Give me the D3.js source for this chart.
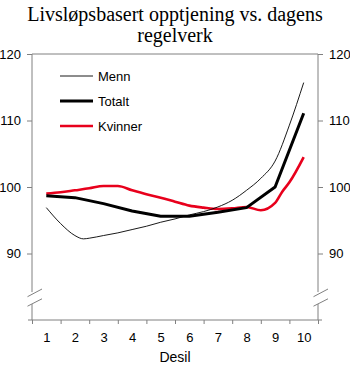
<!DOCTYPE html>
<html><head><meta charset="utf-8">
<script src="https://cdn.jsdelivr.net/npm/d3@7"></script>
<style>body{margin:0;background:#fff}svg{display:block}</style>
</head><body>
<script>
const title = ["Livsløpsbasert opptjening vs. dagens", "regelverk"];
const deciles = [1,2,3,4,5,6,7,8,9,10];
const yTicks = [90,100,110,120];
const xLabel = "Desil";
const seriesNames = ["Menn","Totalt","Kvinner"];
// Menn (smooth, read at half steps)
const mennX = [1,1.5,2,2.3,2.5,3,3.5,4,4.5,5,5.5,6,6.5,7,7.5,8,8.5,9,9.5,10];
const mennY = [96.9,94.5,92.7,92.2,92.3,92.7,93.1,93.6,94.1,94.7,95.2,95.8,96.3,97.0,98.0,99.5,101.3,103.9,109.3,115.7];
// Totalt (one value per decile)
const totaltY = [98.7,98.4,97.5,96.4,95.6,95.6,96.2,96.9,100.0,111.1];
// Kvinner (smooth, read at half steps)
const kvinnerX = [1,1.5,2,2.5,3,3.5,4,4.5,5,5.5,6,6.5,7,7.5,8,8.5,9,9.25,9.5,10];
const kvinnerY = [99.0,99.2,99.5,99.8,100.15,100.15,99.5,98.9,98.4,97.8,97.2,96.9,96.7,96.8,97.0,96.5,97.6,99.3,100.7,104.5];

const W=350,H=367;
const svg=d3.select("body").append("svg").attr("width",W).attr("height",H);
const x=d3.scaleLinear().domain([0.5,10.5]).range([32,318]);
const y=d3.scaleLinear().domain([80,120]).range([320,54]);
const axisCol="#808080";
const font="Arial, 'Liberation Sans', sans-serif";

// title
svg.append("g").selectAll("text").data(title).join("text")
  .attr("x",175).attr("y",(d,i)=>21+i*21).attr("text-anchor","middle")
  .attr("font-family","'Times New Roman','Liberation Serif',serif").attr("font-size",20)
  .attr("fill","#000").text(d=>d);

// top frame line
svg.append("line").attr("x1",32).attr("x2",318).attr("y1",y(120)).attr("y2",y(120))
  .attr("stroke",axisCol).attr("stroke-width",1);

// left axis
const gl=svg.append("g").attr("transform","translate(32,0)")
  .call(d3.axisLeft(y).tickValues(yTicks).tickSize(5).tickPadding(6));
// right axis
const gr=svg.append("g").attr("transform","translate(318,0)")
  .call(d3.axisRight(y).tickValues(yTicks).tickSize(5).tickPadding(6));
[gl,gr].forEach(g=>{
  g.select(".domain").attr("d",`M0,${y(120)}V320`).attr("stroke",axisCol);
  g.selectAll(".tick line").attr("stroke",axisCol);
  g.selectAll(".tick text").attr("font-family",font).attr("font-size",13).attr("fill","#000");
});
// bottom axis: boundaries
const boundaries=d3.range(0.5,11,1);
const gb=svg.append("g").attr("transform","translate(0,320)")
  .call(d3.axisBottom(x).tickValues(boundaries).tickSize(4).tickFormat(""));
gb.select(".domain").attr("d","M28,0H322").attr("stroke",axisCol);
gb.selectAll(".tick line").attr("stroke",axisCol);
const gb2=svg.append("g").attr("transform","translate(0,320)")
  .call(d3.axisBottom(x).tickValues(deciles).tickSize(0).tickPadding(13).tickFormat(d3.format("d")));
gb2.select(".domain").remove();
gb2.selectAll(".tick text").attr("font-family",font).attr("font-size",13).attr("fill","#000");

svg.append("text").attr("x",175).attr("y",362).attr("text-anchor","middle")
  .attr("font-family",font).attr("font-size",14).attr("fill","#000").text(xLabel);

// axis breaks
function brk(x0){
  const g=svg.append("g");
  g.append("rect").attr("x",x0-3).attr("y",y(84.2)).attr("width",6).attr("height",y(82.4)-y(84.2)).attr("fill","#fff");
  [[296.7,289],[306.2,298.8]].forEach(([a,b])=>{
    g.append("line").attr("x1",x0-4.5).attr("x2",x0+10).attr("y1",a).attr("y2",b)
      .attr("stroke",axisCol).attr("stroke-width",1);
  });
}
brk(32); brk(318);

// lines
const mennData=mennX.map((d,i)=>[d,mennY[i]]);
const totaltData=deciles.map((d,i)=>[d,totaltY[i]]);
const kvinnerData=kvinnerX.map((d,i)=>[d,kvinnerY[i]]);
const smooth=d3.line().x(d=>x(d[0])).y(d=>y(d[1])).curve(d3.curveMonotoneX);
const straight=d3.line().x(d=>x(d[0])).y(d=>y(d[1]));
svg.append("path").attr("d",smooth(kvinnerData)).attr("fill","none").attr("stroke","#e8001c").attr("stroke-width",2.6);
svg.append("path").attr("d",straight(totaltData)).attr("fill","none").attr("stroke","#000").attr("stroke-width",3).attr("stroke-linejoin","round");
svg.append("path").attr("d",smooth(mennData)).attr("fill","none").attr("stroke","#000").attr("stroke-width",0.9);

// legend
const legStyles=[{c:"#000",w:0.9},{c:"#000",w:3},{c:"#e8001c",w:2.6}];
const lg=svg.append("g");
seriesNames.forEach((n,i)=>{
  const yy=76+i*25;
  lg.append("line").attr("x1",60).attr("x2",93).attr("y1",yy).attr("y2",yy)
    .attr("stroke",legStyles[i].c).attr("stroke-width",legStyles[i].w);
  lg.append("text").attr("x",98).attr("y",yy+5).attr("font-family",font).attr("font-size",13)
    .attr("fill","#000").text(n);
});
</script>
</body></html>
